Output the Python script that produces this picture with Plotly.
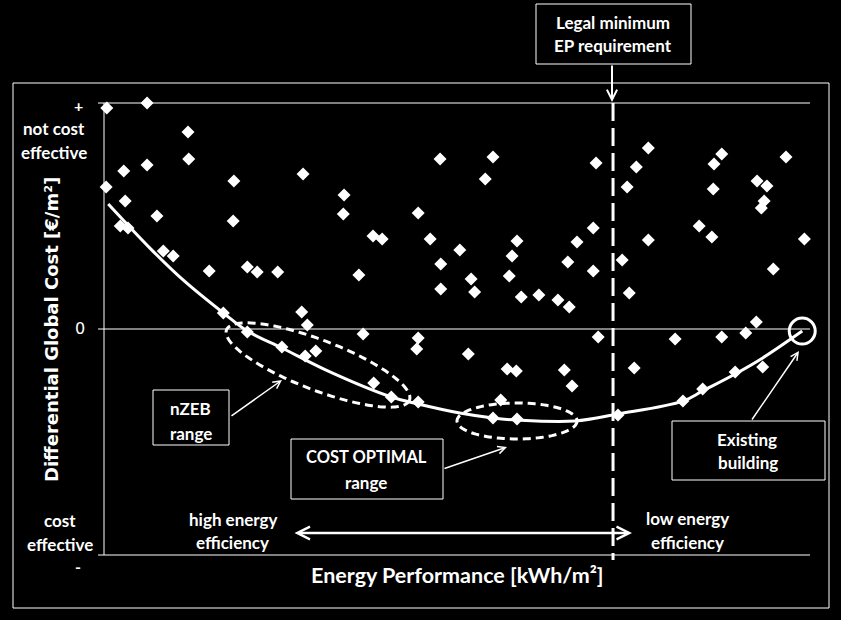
import numpy as np
import plotly.graph_objects as go

# ---------------- data ----------------
# Energy performance (relative scale 0..100) and differential global cost (relative scale -100..100)
energy = [0.4, 6.1, 11.9, 12.0, 2.8, 6.1, 0.3, 18.4, 3.0, 7.5, 18.3, 2.3, 3.4, 8.4, 9.8, 14.9,
          20.3, 21.7, 24.6, 28.2, 34.0, 33.9, 47.6, 55.1, 54.0, 69.7, 38.1, 39.4, 44.5, 46.2,
          50.4, 58.5, 57.8, 47.7, 36.1, 57.4, 52.0, 67.0, 65.7, 69.3, 69.3, 47.7, 52.5, 59.1,
          61.6, 64.3, 65.9, 28.0, 28.8, 36.7, 44.5, 44.3, 51.6, 57.1, 58.4, 65.2, 66.3, 70.0,
          30.0, 28.5, 38.2, 40.7, 44.5, 56.2, 55.1, 58.5, 16.9, 20.3, 25.2, 74.4, 80.9, 87.5,
          90.9, 92.4, 75.1, 72.8, 82.0, 84.8, 89.4, 93.3, 77.1, 75.4, 74.1, 87.5, 86.4, 86.3,
          96.6, 92.5, 93.9, 93.5, 93.1, 84.3, 86.1, 77.1, 99.2, 73.4, 94.8]
cost = [97.8, 100.0, 87.2, 75.2, 69.9, 72.6, 62.8, 65.5, 56.6, 50.0, 47.8, 45.6, 44.7, 34.5,
        32.3, 25.7, 27.4, 25.2, 25.2, 68.6, 59.3, 50.9, 75.2, 76.1, 66.4, 73.5, 41.2, 39.8,
        51.3, 39.8, 35.0, 38.9, 32.3, 28.8, 23.9, 23.5, 22.1, 38.5, 29.6, 44.7, 25.7, 17.7,
        16.4, 14.2, 15.0, 12.8, 9.7, 7.5, 1.8, -2.2, -4.0, -8.8, -11.1, -17.7, -18.6, -18.1,
        -25.2, -3.5, -9.7, -11.9, -23.9, -30.1, -32.3, -31.4, -39.4, -39.8, 7.1, -1.3, -8.0,
        15.9, -4.4, -3.5, -1.8, 3.1, -17.3, -38.1, -31.9, -26.5, -19.0, -16.8, 80.1, 71.7,
        62.8, 77.4, 73.0, 61.9, 76.1, 65.5, 63.3, 56.6, 53.5, 45.6, 40.7, 39.4, 39.8, 30.5, 26.5]

# cost-optimal frontier curve
curve_x = [0.6, 6.5, 11.2, 16.9, 20.3, 25.2, 32.0, 40.7, 44.5, 50.4, 55.1, 58.5, 66.7,
           72.8, 82.0, 84.8, 89.4, 93.3, 98.9]
curve_y = [55.3, 35.8, 21.7, 7.1, -0.9, -8.4, -19.0, -30.1, -33.2, -37.2, -39.4, -40.3,
           -40.7, -37.6, -31.9, -27.4, -19.9, -12.8, -0.9]

existing_x = [98.9]
existing_y = [-0.9]
legal_min_x = 72.1

y_tick_text = ["+", "0", "-"]

# ---------------- layout helpers ----------------
W, H = 841, 620
L, R, T, B = 104, 810, 103, 555


def px(x):
    return (x - L) / (R - L)


def py(y):
    return (B - y) / (B - T)


WHITE = "white"
FONT = "Lato"
FS = 17

fig = go.Figure()

fig.add_trace(go.Scatter(x=curve_x, y=curve_y, mode="lines", line=dict(color=WHITE, width=3, shape="spline"),
                         hoverinfo="skip", cliponaxis=False))
fig.add_trace(go.Scatter(x=energy, y=cost, mode="markers",
                         marker=dict(symbol="diamond", size=10, color=WHITE, line=dict(width=0)),
                         cliponaxis=False))
fig.add_trace(go.Scatter(x=existing_x, y=existing_y, mode="markers",
                         marker=dict(symbol="circle-open", size=26, color=WHITE, line=dict(width=3, color=WHITE)),
                         cliponaxis=False))

shapes = []


def line_px(x0, y0, x1, y1, width=1, dash=None):
    d = dict(type="line", xref="paper", yref="paper", x0=px(x0), y0=py(y0), x1=px(x1), y1=py(y1),
             line=dict(color=WHITE, width=width))
    if dash:
        d["line"]["dash"] = dash
    shapes.append(d)


def rect_px(x0, y0, x1, y1, width=1):
    shapes.append(dict(type="rect", xref="paper", yref="paper", x0=px(x0), y0=py(y1), x1=px(x1), y1=py(y0),
                       line=dict(color=WHITE, width=width), fillcolor="rgba(0,0,0,0)"))


def ellipse_px(cx, cy, a, b, ang_deg, dash="8px,5px", width=3, n=120):
    t = np.linspace(0, 2 * np.pi, n)
    ang = np.radians(ang_deg)
    xs = cx + a * np.cos(t) * np.cos(ang) - b * np.sin(t) * np.sin(ang)
    ys = cy + a * np.cos(t) * np.sin(ang) + b * np.sin(t) * np.cos(ang)
    path = "M " + " L ".join(f"{px(x):.5f},{py(y):.5f}" for x, y in zip(xs, ys)) + " Z"
    shapes.append(dict(type="path", xref="paper", yref="paper", path=path,
                       line=dict(color=WHITE, width=width, dash=dash)))


# outer frame
rect_px(13, 83, 829, 608, 1)
# axis lines / gridlines
line_px(98, T, R, T)
line_px(98, 329, R, 329)
line_px(98, B, R, B)
line_px(L, T, L, B)
# legal minimum dashed line
shapes.append(dict(type="line", xref="x", yref="paper", x0=legal_min_x, x1=legal_min_x, y0=1.0, y1=py(560),
                   line=dict(color=WHITE, width=3, dash="18px,7px")))
# ellipses
ellipse_px(318, 365, 98, 25, 21)
ellipse_px(517, 421, 60, 18, 0)
# boxes
rect_px(536, 4, 691, 64)
rect_px(153, 390, 229, 445)
rect_px(291, 439, 443, 499)
rect_px(672, 421, 825, 480)

annotations = []


def txt(x, y, s, size=FS, family=FONT, bold=True, angle=0):
    annotations.append(dict(x=px(x), y=py(y), xref="paper", yref="paper", text=(f"<b>{s}</b>" if bold else s),
                            showarrow=False, xanchor="center", yanchor="middle", textangle=angle,
                            font=dict(family=family, size=size, color=WHITE)))


def arr(x0, y0, x1, y1, width=1.5, head=5, size=1.0, side="end"):
    annotations.append(dict(x=px(x1), y=py(y1), xref="paper", yref="paper", ax=x0 - x1, ay=y0 - y1,
                            axref="pixel", ayref="pixel", text="", showarrow=True, arrowhead=head,
                            startarrowhead=head, arrowside=side, arrowsize=size, startarrowsize=size,
                            arrowwidth=width, arrowcolor=WHITE, standoff=0, startstandoff=0))


# y tick-ish labels
txt(78, 106, y_tick_text[0], 16)
txt(80, 328, y_tick_text[1], 16, bold=False, family="DejaVu Sans")
txt(78, 566, y_tick_text[2], 16)
txt(54, 128, "not cost")
txt(54, 152, "effective")
txt(60, 520, "cost")
txt(60, 544, "effective")

txt(233, 519, "high energy")
txt(232, 542, "efficiency")
txt(687, 518, "low energy")
txt(687, 542, "efficiency")

txt(613, 23, "Legal minimum")
txt(613, 46, "EP requirement")
txt(190, 408, "nZEB")
txt(191, 433, "range")
txt(366, 457, "COST OPTIMAL", 16.5)
txt(366, 482, "range")
txt(747, 439, "Existing")
txt(748, 462, "building")

# axis titles
txt(457, 575, "Energy Performance [kWh/m²]", 21.5)
txt(51, 330, "Differential Global Cost [€/m²]", 18, family="DejaVu Sans", angle=-90)

# arrows
arr(612, 64, 612, 102, width=2, head=5)
arr(230, 417, 282, 380, width=1.5, head=5)
arr(443, 469, 507, 447, width=1.5, head=5)
arr(751, 421, 799, 351, width=1.5, head=5)
arr(293, 533, 632, 533, width=2.5, head=5, side="end+start")

fig.update_layout(
    width=W, height=H, autosize=False,
    margin=dict(l=L, r=W - R, t=T, b=H - B, pad=0),
    paper_bgcolor="black", plot_bgcolor="black",
    showlegend=False,
    xaxis=dict(range=[0, 100], showgrid=False, zeroline=False, showline=False, showticklabels=False, ticks=""),
    yaxis=dict(range=[-100, 100], showgrid=False, zeroline=False, showline=False, showticklabels=False, ticks=""),
    shapes=shapes, annotations=annotations,
)

fig.write_html("out.html", config={"displayModeBar": False},
               post_script="document.body.style.margin='0';document.body.style.background='black';")
